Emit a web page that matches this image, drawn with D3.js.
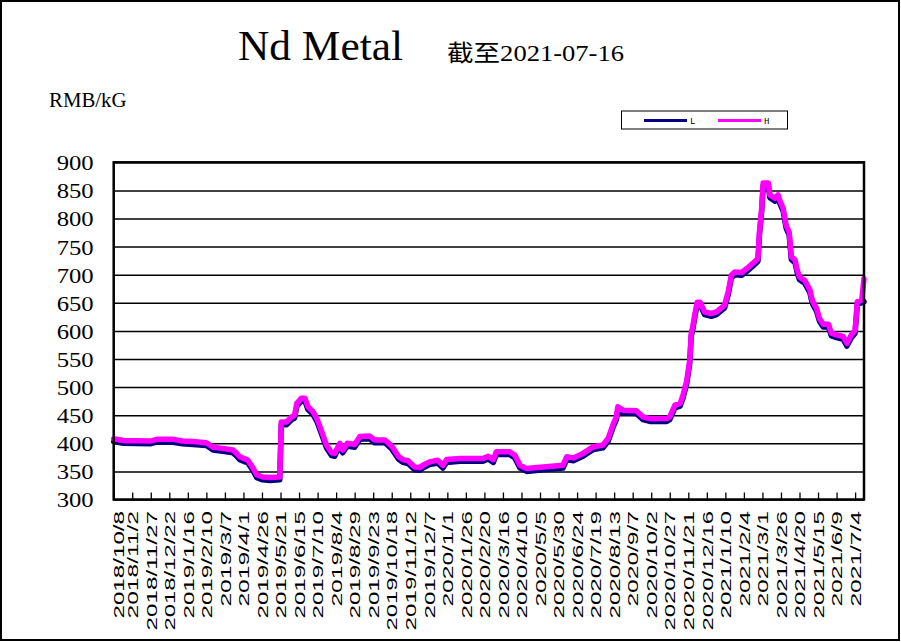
<!DOCTYPE html>
<html><head><meta charset="utf-8">
<script src="https://cdn.jsdelivr.net/npm/d3@7/dist/d3.min.js"></script>
<style>body{margin:0;background:#fff}svg{display:block}</style>
</head><body><svg id="c" width="901" height="642"></svg>
<script>
// ---- data ----
const dates = [
"2018-10-08","2018-10-21","2018-11-26","2018-12-05","2018-12-27","2019-01-09","2019-01-23","2019-02-10","2019-02-19","2019-03-04",
"2019-03-18","2019-03-23","2019-03-27","2019-04-07","2019-04-14","2019-04-19","2019-04-27","2019-05-07","2019-05-20","2019-05-22",
"2019-05-29","2019-06-05","2019-06-09","2019-06-12","2019-06-18","2019-06-23","2019-06-27","2019-07-04","2019-07-09","2019-07-15",
"2019-07-22","2019-07-29","2019-08-02","2019-08-09","2019-08-13","2019-08-19","2019-08-29","2019-09-05","2019-09-18","2019-09-25",
"2019-10-09","2019-10-18","2019-10-27","2019-11-02","2019-11-09","2019-11-18","2019-11-25","2019-11-29","2019-12-08","2019-12-19",
"2019-12-26","2019-12-31","2020-01-18","2020-02-18","2020-02-25","2020-03-03","2020-03-07","2020-03-25","2020-04-01","2020-04-08",
"2020-04-17","2020-05-09","2020-06-05","2020-06-10","2020-06-19","2020-07-02","2020-07-16","2020-07-29","2020-08-05","2020-08-12",
"2020-08-16","2020-08-18","2020-08-25","2020-09-12","2020-09-21","2020-09-30","2020-10-23","2020-10-27","2020-11-03","2020-11-10",
"2020-11-14","2020-11-19","2020-11-21","2020-11-23","2020-11-25","2020-11-27","2020-11-30","2020-12-03","2020-12-07","2020-12-13",
"2020-12-22","2020-12-29","2021-01-09","2021-01-14","2021-01-18","2021-01-23","2021-02-01","2021-02-08","2021-02-16","2021-02-23",
"2021-02-25","2021-02-28","2021-03-02","2021-03-09","2021-03-11","2021-03-18","2021-03-22","2021-03-25","2021-03-29","2021-04-02",
"2021-04-06","2021-04-09","2021-04-14","2021-04-17","2021-04-20","2021-04-27","2021-05-04","2021-05-06","2021-05-08","2021-05-13",
"2021-05-17","2021-05-22","2021-05-29","2021-06-02","2021-06-09","2021-06-18","2021-06-23","2021-06-29","2021-07-04","2021-07-07",
"2021-07-13","2021-07-16"];
const lowValues = [
403,400,399,402,402,399,398,396,388,386,
383,377,371,365,351,339,335,334,335,433,
433,442,445,466,475,475,460,451,439,418,
392,378,377,395,383,395,393,407,408,401,
401,390,372,366,364,353,352,356,362,365,
356,366,368,368,372,366,380,380,374,356,
350,353,356,371,369,377,389,392,404,430,
442,460,454,453,442,439,439,442,463,466,
481,507,525,543,591,602,626,646,646,629,
626,629,641,665,694,700,699,706,715,724,
771,813,858,858,837,831,837,825,813,783,
771,727,721,703,691,685,668,656,647,635,
617,607,607,591,588,585,573,588,596,647,
650,652];
const highValues = [
408,405,404,407,407,404,403,401,393,391,
388,382,376,370,356,344,340,339,340,438,
438,447,450,471,480,480,465,456,444,423,
397,383,382,400,388,400,398,412,413,406,
406,395,377,371,369,358,357,361,367,370,
361,371,373,373,377,371,385,385,379,361,
355,358,361,376,374,382,394,397,409,435,
447,465,459,458,447,444,444,447,468,471,
486,512,530,548,596,607,631,651,651,634,
631,634,646,670,699,705,704,711,720,729,
776,818,863,863,842,836,842,830,818,788,
776,732,726,708,696,690,673,661,652,640,
622,612,612,596,593,590,578,593,601,652,
655,693];
const xTickLabels = [
"2018/10/8","2018/11/2","2018/11/27","2018/12/22","2019/1/16","2019/2/10","2019/3/7","2019/4/1","2019/4/26","2019/5/21",
"2019/6/15","2019/7/10","2019/8/4","2019/8/29","2019/9/23","2019/10/18","2019/11/12","2019/12/7","2020/1/1","2020/1/26",
"2020/2/20","2020/3/16","2020/4/10","2020/5/5","2020/5/30","2020/6/24","2020/7/19","2020/8/13","2020/9/7","2020/10/2",
"2020/10/27","2020/11/21","2020/12/16","2021/1/10","2021/2/4","2021/3/1","2021/3/26","2021/4/20","2021/5/15","2021/6/9",
"2021/7/4"];
const yTicks = [300,350,400,450,500,550,600,650,700,750,800,850,900];
const seriesNames = ["L","H"];
const seriesColors = ["#000080","#FF00FF"];
const titleText = "Nd Metal";
const subtitleText = "截至2021-07-16";
const unitText = "RMB/kG";
const dateStart = "2018-10-08", dateEnd = "2021-07-16";

// ---- drawing ----
const svg = d3.select("#c");
svg.append("rect").attr("x",1).attr("y",1).attr("width",898).attr("height",639)
  .attr("fill","#fff").attr("stroke","#000").attr("stroke-width",2);

const P = {left:113.7, right:864, top:162.3, bottom:499.5};
const parse = d3.utcParse("%Y-%m-%d");
const parseTick = d3.utcParse("%Y/%m/%d");
const x = d3.scaleUtc().domain([parse(dateStart), parse(dateEnd)]).range([P.left, P.right]);
const y = d3.scaleLinear().domain([300,900]).range([P.bottom, P.top]);

// y axis with gridlines
const yAx = svg.append("g").attr("transform",`translate(${P.left},0)`)
  .call(d3.axisLeft(y).tickValues(yTicks).tickSize(-(P.right-P.left)).tickPadding(20).tickFormat(d3.format("d")));
yAx.select(".domain").remove();
yAx.selectAll(".tick line").attr("stroke","#000").attr("stroke-width",1.5);
yAx.selectAll(".tick text").attr("font-family","'Liberation Serif',serif").attr("font-size",22)
  .attr("fill","#000").attr("dy","0.34em").attr("textLength",37).attr("lengthAdjust","spacingAndGlyphs");

// x axis
const tickDates = xTickLabels.map(s=>parseTick(s));
const xAx = svg.append("g").attr("transform",`translate(0,${P.bottom})`)
  .call(d3.axisBottom(x).tickValues(tickDates).tickSize(-7).tickFormat((d,i)=>xTickLabels[i]));
xAx.select(".domain").remove();
xAx.selectAll(".tick line").attr("stroke","#000").attr("stroke-width",1.3);
xAx.selectAll(".tick text")
  .attr("font-family","'Liberation Sans',sans-serif").attr("font-size",14.5).attr("fill","#000")
  .attr("text-anchor","end").attr("y",null).attr("x",-11.5).attr("dy","0.36em")
  .attr("transform",(d,i)=> i===0 ? "translate(5,0) rotate(-90)" : "rotate(-90)")
  .attr("textLength",(d,i)=>xTickLabels[i].length*11.95).attr("lengthAdjust","spacingAndGlyphs");

// series lines
const seriesData = [lowValues, highValues];
const line = d3.line().x(d=>x(d.date)).y(d=>y(d.v));
seriesData.forEach((vals,k)=>{
  const pts = dates.map((s,i)=>({date:parse(s), v:vals[i]}));
  svg.append("path").datum(pts).attr("d",line).attr("fill","none")
    .attr("stroke",seriesColors[k]).attr("stroke-width",5.5)
    .attr("stroke-linejoin","round").attr("stroke-linecap","round");
});

// plot border
svg.append("rect").attr("x",P.left).attr("y",P.top).attr("width",P.right-P.left).attr("height",P.bottom-P.top)
  .attr("fill","none").attr("stroke","#000").attr("stroke-width",2.5);

// titles
svg.append("text").attr("x",238).attr("y",60).text(titleText)
  .attr("font-family","'Liberation Serif',serif").attr("font-size",42).attr("fill","#000")
  .attr("textLength",165).attr("lengthAdjust","spacingAndGlyphs");
svg.append("text").attr("x",447).attr("y",60.5).text(subtitleText)
  .attr("font-family","'Liberation Serif','Noto Sans CJK SC',serif").attr("font-size",23).attr("fill","#000")
  .attr("textLength",177).attr("lengthAdjust","spacingAndGlyphs");
svg.append("text").attr("x",49).attr("y",107.3).text(unitText)
  .attr("font-family","'Liberation Serif',serif").attr("font-size",20).attr("fill","#000")
  .attr("textLength",77.5).attr("lengthAdjust","spacingAndGlyphs");

// legend
const lg = svg.append("g");
lg.append("rect").attr("x",621.5).attr("y",111).attr("width",166).attr("height",18)
  .attr("fill","#fff").attr("stroke","#000").attr("stroke-width",1);
const legX = [644, 718];
seriesNames.forEach((n,k)=>{
  lg.append("line").attr("x1",legX[k]).attr("x2",legX[k]+43).attr("y1",120.5).attr("y2",120.5)
    .attr("stroke",seriesColors[k]).attr("stroke-width",3);
  lg.append("text").attr("x",legX[k]+46).attr("y",124).text(n)
    .attr("font-family","'Liberation Mono',monospace").attr("font-size",9).attr("fill","#000");
});
</script>
</body></html>
